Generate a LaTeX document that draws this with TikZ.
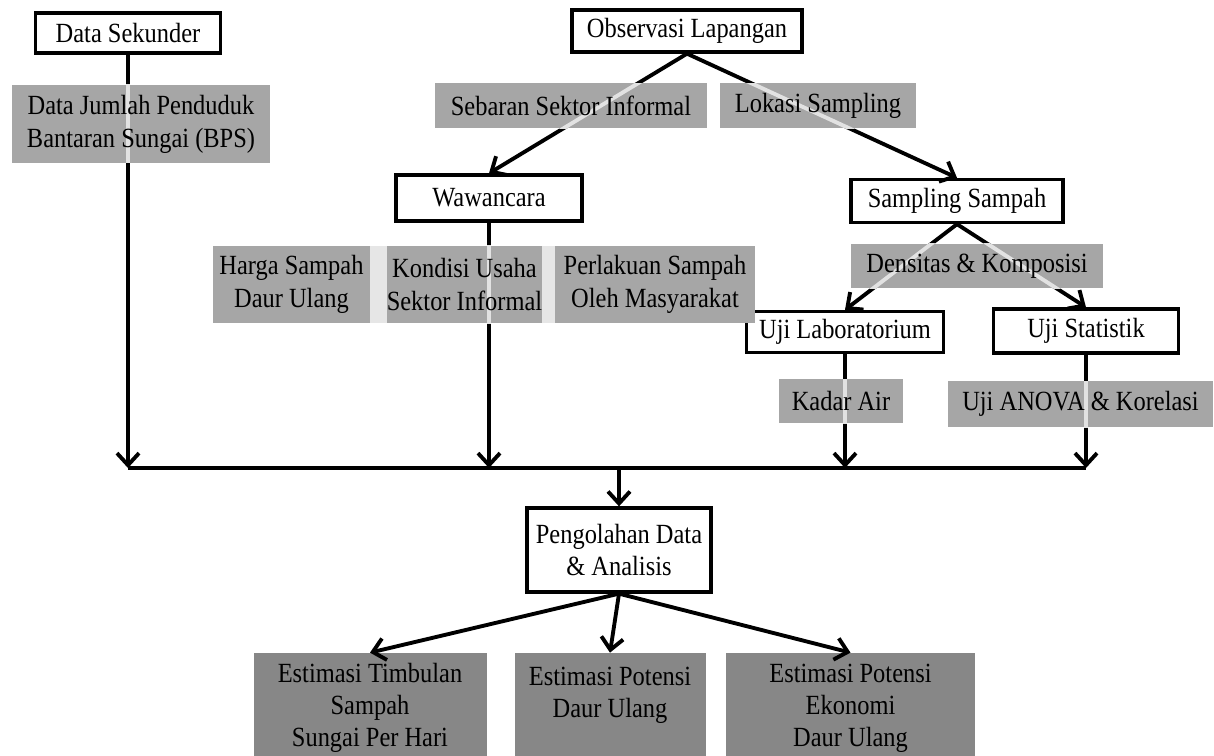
\documentclass[tikz,border=0pt]{standalone}
\usepackage{fontspec}
\setmainfont{Liberation Serif}[FakeStretch=0.88]
\usetikzlibrary{arrows.meta}

\definecolor{tagfill}{HTML}{A6A6A6}
\definecolor{resfill}{HTML}{878787}
\definecolor{gapfill}{HTML}{E6E6E6}
\definecolor{seefill}{HTML}{E2E2E2}

\tikzset{
  sz/.style 2 args={minimum width=#1mm, minimum height=#2mm},
  box/.style={draw, line width=1.9pt, fill=white, inner sep=0pt, align=center},
  tag/.style={fill=tagfill, inner sep=0pt, align=center},
  result/.style={fill=resfill, inner sep=0pt, align=center,
    font=\fontsize{15.8}{18.2}\selectfont},
  wire/.style={line width=2.2pt, -{Straight Barb[length=2.4mm,width=4.4mm]}},
  bus/.style={line width=2.2pt},
  seeline/.style={line width=2.2pt, draw=seefill},
  % line seen through a grey tag
  see/.style 2 args={path picture={\draw[seeline] (#1) -- (#2);}}
}

\begin{document}
\begin{tikzpicture}[x=0.2mm, y=-0.2mm,
  every node/.style={font=\fontsize{15.8}{18.7}\selectfont}]
  \useasboundingbox (0,0) rectangle (1214,756);

  % boxes
  \node[box, sz={37}{8}]      (dsk)  at (128,33)   {Data Sekunder};
  \node[box, sz={46}{8.4}]    (obs)  at (687,31)   {Observasi Lapangan};
  \node[box, sz={37.2}{9.2}]  (waw)  at (489,198)  {Wawancara};
  \node[box, sz={42.4}{8.6}]  (samp) at (957,201)  {Sampling Sampah};
  \node[box, sz={39.4}{8.2}]  (lab)  at (845,332)  {Uji Laboratorium};
  \node[box, sz={37}{8.8}]    (stat) at (1086,331) {Uji Statistik};
  \node[box, sz={36.8}{16.8}] (olah) at (619,550)  {Pengolahan Data\\ \& Analisis};

  % bus
  \coordinate (bl)    at (128,468);
  \coordinate (bw)    at (489,468);
  \coordinate (bmid)  at (619,468);
  \coordinate (blab)  at (845,468);
  \coordinate (bstat) at (1086,468);

  % connectors
  \draw[wire] (dsk.south) -- (bl);
  \draw[wire] (obs.south) -- (waw.north);
  \draw[wire] (obs.south) -- (samp.north);
  \draw[wire] (waw.south) -- (bw);
  \draw[wire] (samp.south) -- (lab.north);
  \draw[wire] (samp.south) -- (stat.north);
  \draw[wire] (lab.south) -- (blab);
  \draw[wire] (stat.south) -- (bstat);
  \draw[bus] (bl) -- (bstat);
  \draw[wire] (bmid) -- (olah.north);

  % grey tags
  \node[tag, sz={51.6}{15.6}, see={dsk.south}{bl}] (jml) at (141,124)
    {Data Jumlah Penduduk\\ Bantaran Sungai (BPS)};
  \node[tag, sz={54.4}{9}, see={obs.south}{waw.north}] (sebar) at (571,106)
    {Sebaran Sektor Informal};
  \node[tag, sz={39.2}{9}, see={obs.south}{samp.north}] (lokasi) at (818,106)
    {Lokasi Sampling};
  \node[tag, sz={31.4}{15.4}] (harga) at (291.5,284.5) {Harga Sampah\\ Daur Ulang};
  \node[tag, sz={40}{15.4}] (perlak) at (655,284.5) {Perlakuan Sampah\\ Oleh Masyarakat};
  \fill[gapfill] (harga.north east) rectangle (perlak.south west);
  \node[tag, sz={31}{15.4}, see={waw.south}{bw}] (kond) at (464.5,284.5)
    {Kondisi Usaha\\ Sektor Informal};
  \node[tag, sz={50.4}{8.8}, path picture={
      \draw[seeline] (samp.south) -- (lab.north);
      \draw[seeline] (samp.south) -- (stat.north);}] (dens) at (977,266)
    {Densitas \& Komposisi};
  \node[tag, sz={24.8}{8.8}, see={lab.south}{blab}] (kadar) at (841,401) {Kadar Air};
  \node[tag, sz={53}{9.2}, see={stat.south}{bstat}] (anova) at (1080.5,404)
    {Uji ANOVA \& Korelasi};

  % results
  \node[result, sz={46.6}{22}] (timb) at (370,708)   {Estimasi Timbulan\\ Sampah\\ Sungai Per Hari};
  \node[result, sz={38.2}{22}] (pot)  at (610,708)   {Estimasi Potensi\\ Daur Ulang\\ ~};
  \node[result, sz={49.8}{22}] (eko)  at (850.5,708) {Estimasi Potensi\\ Ekonomi\\ Daur Ulang};

  \draw[wire] (olah.south) -- (timb.north);
  \draw[wire] (olah.south) -- (pot.north);
  \draw[wire] (olah.south) -- (eko.north);
\end{tikzpicture}
\end{document}
